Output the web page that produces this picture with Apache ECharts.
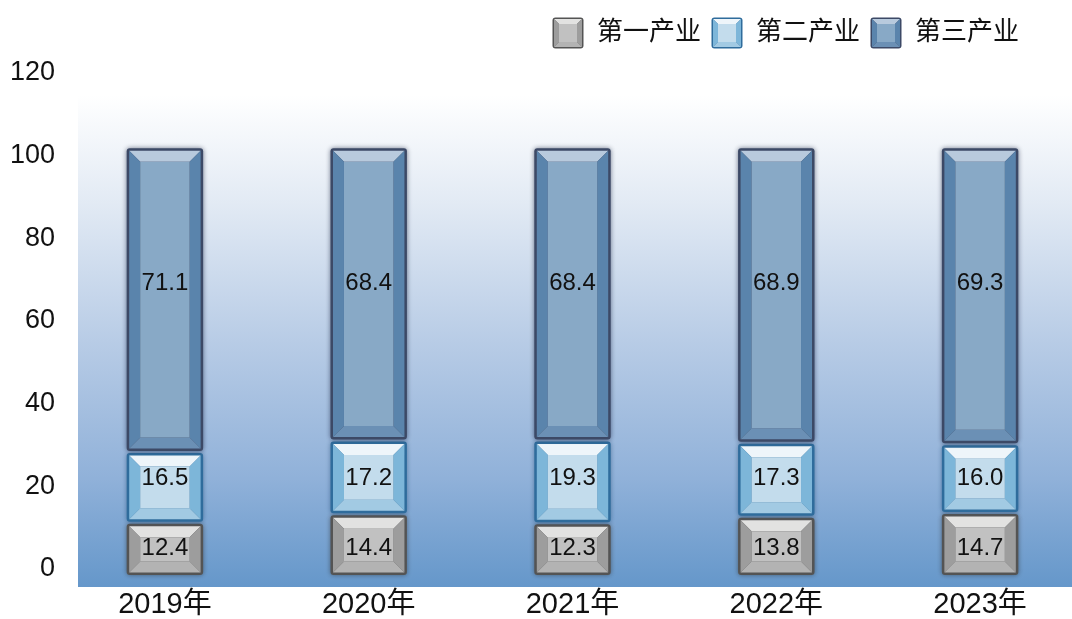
<!DOCTYPE html>
<html><head><meta charset="utf-8">
<script src="https://cdn.jsdelivr.net/npm/echarts@6/dist/echarts.min.js"></script>
<style>html,body{margin:0;padding:0;background:#fff}#c{width:1072px;height:619px}</style>
</head><body><div id="c"></div>
<script>
const categories = ['2019年','2020年','2021年','2022年','2023年'];
const seriesNames = ['第一产业','第二产业','第三产业'];
const primary   = [12.4, 14.4, 12.3, 13.8, 14.7];
const secondary = [16.5, 17.2, 19.3, 17.3, 16.0];
const tertiary  = [71.1, 68.4, 68.4, 68.9, 69.3];
const yTicks = [0, 20, 40, 60, 80, 100, 120];

const FONT = '"Liberation Sans","Noto Sans CJK SC",sans-serif';
const palettes = [
  {border:'#545454', top:'#e2e2e1', side:'#9d9d9d', bottom:'#b3b3b3', face:'#c1c1c1', shadow:'rgba(40,40,40,0.55)', labelAt: 6.5},
  {border:'#2f6c9c', top:'#eef5fa', side:'#7db6d9', bottom:'#a2cae3', face:'#c3dcec', shadow:'rgba(20,60,100,0.5)', labelAt: 22.8},
  {border:'#3c4966', top:'#b8cadd', side:'#5a84ac', bottom:'#6b90b5', face:'#88a9c6', shadow:'rgba(20,30,60,0.6)', labelAt: 68.3}
];

const values = [primary, secondary, tertiary];
// stacked data: [catIdx, base, top, value]
const stacked = values.map((arr, s) => arr.map((v, i) => {
  let base = 0;
  for (let k = 0; k < s; k++) base += values[k][i];
  return [i, base, base + v, v];
}));

function bevelSvg(p) {
  const s = 32, b = 5, o = 2;
  const svg = `<svg xmlns="http://www.w3.org/2000/svg" width="${s}" height="${s}">` +
    `<rect x="0.5" y="0.5" width="${s-1}" height="${s-1}" rx="3" fill="${p.border}"/>` +
    `<polygon points="${o},${o} ${s-o},${o} ${s-o-b},${o+b} ${o+b},${o+b}" fill="${p.top}"/>` +
    `<polygon points="${o},${o} ${o+b},${o+b} ${o+b},${s-o-b} ${o},${s-o}" fill="${p.side}"/>` +
    `<polygon points="${s-o},${o} ${s-o},${s-o} ${s-o-b},${s-o-b} ${s-o-b},${o+b}" fill="${p.side}"/>` +
    `<polygon points="${o},${s-o} ${s-o},${s-o} ${s-o-b},${s-o-b} ${o+b},${s-o-b}" fill="${p.bottom}"/>` +
    `<rect x="${o+b}" y="${o+b}" width="${s-2*o-2*b}" height="${s-2*o-2*b}" fill="${p.face}"/>` +
    `</svg>`;
  return 'image://data:image/svg+xml;charset=utf-8,' + encodeURIComponent(svg);
}

function makeRender(p) {
  return function (params, api) {
    const i = api.value(0), lo = api.value(1), hi = api.value(2), v = api.value(3);
    const pb = api.coord([i, lo]);
    const pt = api.coord([i, hi]);
    const pl = api.coord([i, p.labelAt]);
    const w = api.size([1, 0])[0] * 0.375;
    const x0 = pb[0] - w / 2, x1 = pb[0] + w / 2;
    const y0 = pt[1] + 1, y1 = pb[1] - 1;
    const o = 2.5, b = 11;
    const ix0 = x0 + o, ix1 = x1 - o, iy0 = y0 + o, iy1 = y1 - o;
    const bx = Math.min(b, (ix1 - ix0) / 3), by = Math.min(b, (iy1 - iy0) / 3);
    const poly = (pts, fill) => ({type: 'polygon', shape: {points: pts}, style: {fill: fill}});
    return {
      type: 'group',
      children: [
        {type: 'rect', shape: {x: x0, y: y0, width: x1 - x0, height: y1 - y0, r: 3},
          style: {fill: p.border, shadowBlur: 5, shadowColor: p.shadow}},
        poly([[ix0, iy0], [ix1, iy0], [ix1 - bx, iy0 + by], [ix0 + bx, iy0 + by]], p.top),
        poly([[ix0, iy0], [ix0 + bx, iy0 + by], [ix0 + bx, iy1 - by], [ix0, iy1]], p.side),
        poly([[ix1, iy0], [ix1, iy1], [ix1 - bx, iy1 - by], [ix1 - bx, iy0 + by]], p.side),
        poly([[ix0, iy1], [ix1, iy1], [ix1 - bx, iy1 - by], [ix0 + bx, iy1 - by]], p.bottom),
        {type: 'rect', shape: {x: ix0 + bx, y: iy0 + by, width: ix1 - ix0 - 2 * bx, height: iy1 - iy0 - 2 * by},
          style: {fill: p.face}},
        {type: 'text', style: {text: v.toFixed(1), x: pb[0], y: pl[1], align: 'center',
          verticalAlign: 'middle', fill: '#111', font: '24px ' + FONT}}
      ]
    };
  };
}

const chart = echarts.init(document.getElementById('c'), null, {renderer: 'canvas'});
chart.setOption({
  animation: false,
  backgroundColor: '#ffffff',
  graphic: [{
    type: 'rect', z: -10, silent: true,
    shape: {x: 78, y: 95, width: 1000, height: 492},
    style: {fill: new echarts.graphic.LinearGradient(0, 0, 0, 1, [
      {offset: 0, color: '#ffffff'},
      {offset: 0.22, color: '#e2eaf4'},
      {offset: 0.5, color: '#b8cce6'},
      {offset: 0.78, color: '#90b1d9'},
      {offset: 1, color: '#6597ca'}
    ])}
  }],
  legend: {
    top: 12, right: 48,
    itemWidth: 32, itemHeight: 32, itemGap: 10,
    textStyle: {fontSize: 26, color: '#111', fontFamily: FONT, padding: [0, 0, 0, 8]},
    data: seriesNames.map((n, k) => ({name: n, icon: bevelSvg(palettes[k])}))
  },
  grid: [
    {left: 63, width: 1019, top: 61.5, bottom: 43, outerBoundsMode: 'none', containLabel: false},
    {left: 63, width: 1019, top: 73, bottom: 50, outerBoundsMode: 'none', containLabel: false}
  ],
  xAxis: [
    {type: 'category', gridIndex: 0, data: categories,
      axisLine: {show: false}, axisTick: {show: false},
      axisLabel: {fontSize: 29, color: '#111', fontFamily: FONT, margin: 14}},
    {type: 'category', gridIndex: 1, data: categories, show: false}
  ],
  yAxis: [
    {type: 'value', gridIndex: 0, min: 0, max: 120, interval: 20,
      axisLabel: {show: false}, splitLine: {show: false}, axisLine: {show: false}, axisTick: {show: false}},
    {type: 'value', gridIndex: 1, min: yTicks[0], max: yTicks[yTicks.length - 1], interval: 20,
      axisLabel: {fontSize: 27, color: '#111', fontFamily: FONT, margin: 8},
      splitLine: {show: false}, axisLine: {show: false}, axisTick: {show: false}}
  ],
  series: seriesNames.map((n, k) => ({
    name: n, type: 'custom', xAxisIndex: 0, yAxisIndex: 0,
    itemStyle: {color: palettes[k].face},
    renderItem: makeRender(palettes[k]),
    encode: {x: 0, y: [1, 2]},
    data: stacked[k]
  }))
});
</script></body></html>
